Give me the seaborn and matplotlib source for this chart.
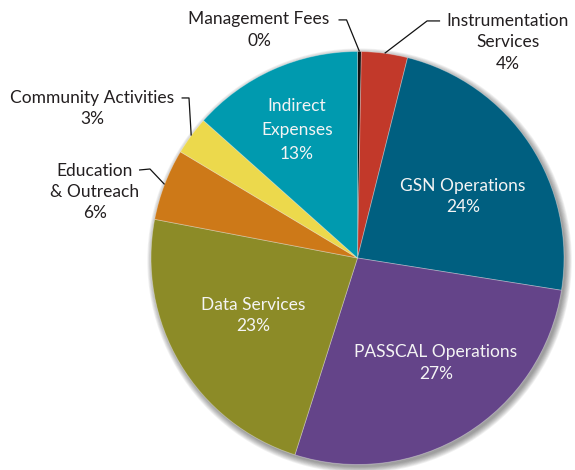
import numpy as np
import matplotlib
matplotlib.use("Agg")
import matplotlib.pyplot as plt
from matplotlib.patches import Circle
import seaborn as sns

sns.set_theme(style="white")
plt.rcParams['font.family'] = ['Lato', 'DejaVu Sans']

# ── Data ───────────────────────────────────────────────────────────────────────
categories = ["Management Fees", "Instrumentation\nServices", "GSN Operations",
              "PASSCAL Operations", "Data Services", "Education\n& Outreach",
              "Community Activities", "Indirect\nExpenses"]
shares = [0.3, 3.6, 23.6, 27.4, 23.1, 5.6, 3.0, 13.4]
colors = ["#111111", "#c2392a", "#005f80", "#644489", "#8c8b27",
          "#cd7918", "#ecd94c", "#009aaf"]
inside = [False, False, True, True, True, False, False, True]

# label centres (pie radius = 1) and leader elbows for outside labels
label_pos = [(-0.477, 1.104), (0.729, 1.044), (0.511, 0.298), (0.380, -0.508),
             (-0.506, -0.278), (-1.271, 0.320), (-1.286, 0.724), (-0.293, 0.620)]
leader_start = {0: (-0.092, 1.153), 1: (0.400, 1.148),
                5: (-1.058, 0.426), 6: (-0.852, 0.775)}
leader_elbow = {0: (-0.053, 1.153), 1: (0.337, 1.148),
                5: (-1.005, 0.431), 6: (-0.816, 0.775)}

# ── Plot ───────────────────────────────────────────────────────────────────────
fig = plt.figure(figsize=(5.75, 4.70), dpi=100)
ax = fig.add_axes([0, 0, 1, 1])

# soft drop shadow behind the pie
for k in range(8):
    ax.add_patch(Circle((0.010, -0.013), 1.0 + k * 0.004, color="black",
                        alpha=0.055, lw=0, zorder=0))

wedges, _ = ax.pie(shares, colors=colors, startangle=90, counterclock=False,
                   radius=1.0,
                   wedgeprops=dict(edgecolor=(1, 1, 1, 0.35), linewidth=0.6,
                                   zorder=2))

for i, (w, name, val) in enumerate(zip(wedges, categories, shares)):
    text = f"{name}\n{round(val)}%"
    x, y = label_pos[i]
    if inside[i]:
        ax.text(x, y, text, ha="center", va="center", fontsize=12.5,
                color="#f4f4f4", linespacing=1.4 if "\n" not in name else 1.6,
                zorder=3)
    else:
        ax.text(x, y, text, ha="center", va="center", fontsize=12.5,
                color="#231f20", linespacing=1.4, zorder=3)
        ang = np.deg2rad((w.theta1 + w.theta2) / 2)
        sx, sy = leader_start[i]
        ex, ey = leader_elbow[i]
        ax.plot([sx, ex, np.cos(ang)], [sy, ey, np.sin(ang)],
                color="#111111", lw=0.9, solid_capstyle="butt", zorder=3)

ax.set_xlim(-357.5 / 206.5, (575 - 357.5) / 206.5)
ax.set_ylim((258 - 470) / 206.5, 258 / 206.5)
ax.set_aspect("auto")
ax.axis("off")

fig.savefig("out.png", dpi=100)
plt.close(fig)
